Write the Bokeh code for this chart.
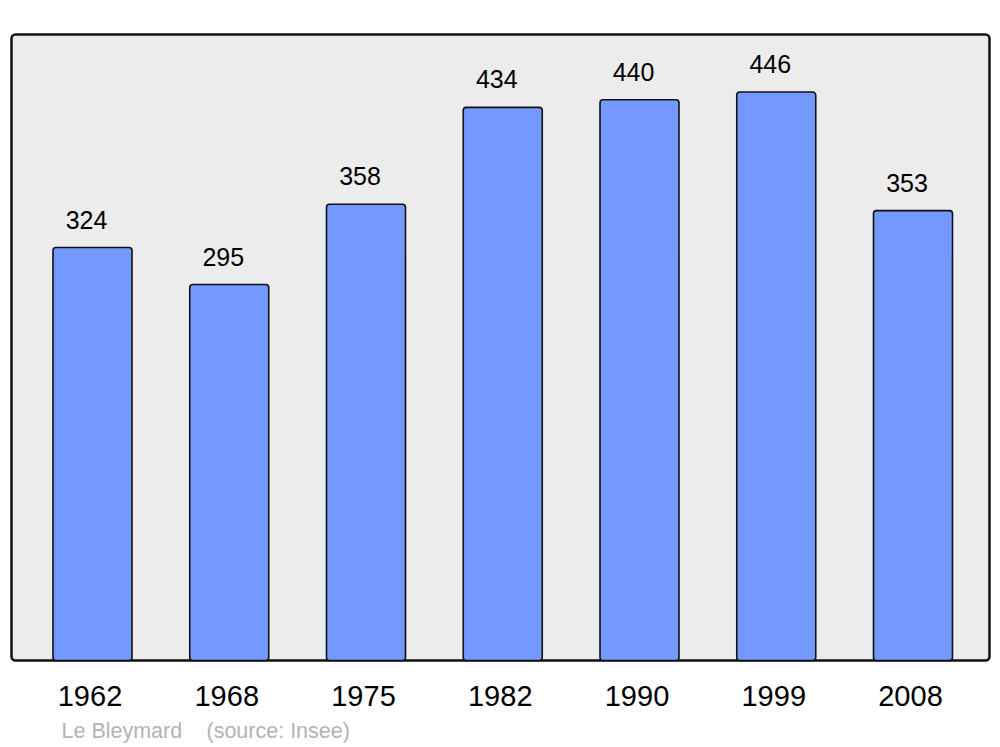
from bokeh.plotting import figure
from bokeh.models import ColumnDataSource, Range1d
from bokeh.core.properties import value
from bokeh.embed import file_html
from bokeh.resources import INLINE

years = ["1962", "1968", "1975", "1982", "1990", "1999", "2008"]
population = [324, 295, 358, 434, 440, 446, 353]
place = "Le Bleymard"
source_note = "(source: Insee)"

idx = list(range(len(years)))
src = ColumnDataSource(dict(x=idx, top=population, year=years,
                            label=[str(v) for v in population]))

# pixel mapping: 136.75 px per category, 1.2745 px per inhabitant
W, H = 1000, 747
XS, YS = 136.75, 1.2745
X0 = (0 - 92) / XS
X1 = (W - 92) / XS
Y1 = 660 / YS
Y0 = -(H - 660) / YS

p = figure(width=W, height=H, output_backend="svg", toolbar_location=None,
           x_range=Range1d(X0, X1), y_range=Range1d(Y0, Y1),
           min_border=0, min_border_left=0, min_border_right=0,
           min_border_top=0, min_border_bottom=0)
p.axis.visible = False
p.grid.visible = False
p.outline_line_color = None
p.background_fill_color = "white"
p.border_fill_color = "white"

FONT = value("Liberation Sans")

# panel box
bx0 = (11 - 92) / XS
bx1 = (989 - 92) / XS
by1 = (660 - 34) / YS
p.quad(left=[bx0], right=[bx1], bottom=[0], top=[by1],
       fill_color="#ececec", line_color="#111111", line_width=2.5,
       border_radius=4)

p.vbar(x="x", top="top", bottom=0, width=79 / XS, source=src,
       fill_color="#7398ff", line_color="#111111", line_width=1.6,
       border_radius=3)

p.text(x="x", y="top", text="label", source=src, text_font=FONT,
       text_font_size="25px", text_align="center", text_baseline="middle",
       x_offset=-6, y_offset=-28, text_color="#000000")

p.text(x="x", y=0, text="year", source=src, text_font=FONT,
       text_font_size="29px", text_align="center", text_baseline="middle",
       x_offset=-2.5, y_offset=35, text_color="#000000")

p.text(x=[(61 - 92) / XS], y=[0], text=[place], text_font=FONT,
       text_font_size="21.5px", text_align="left", text_baseline="middle",
       y_offset=70, text_color="#b3b3b3")
p.text(x=[(206 - 92) / XS], y=[0], text=[source_note], text_font=FONT,
       text_font_size="21.5px", text_align="left", text_baseline="middle",
       y_offset=70, text_color="#b3b3b3")

open("out.html", "w").write(file_html(p, INLINE))
